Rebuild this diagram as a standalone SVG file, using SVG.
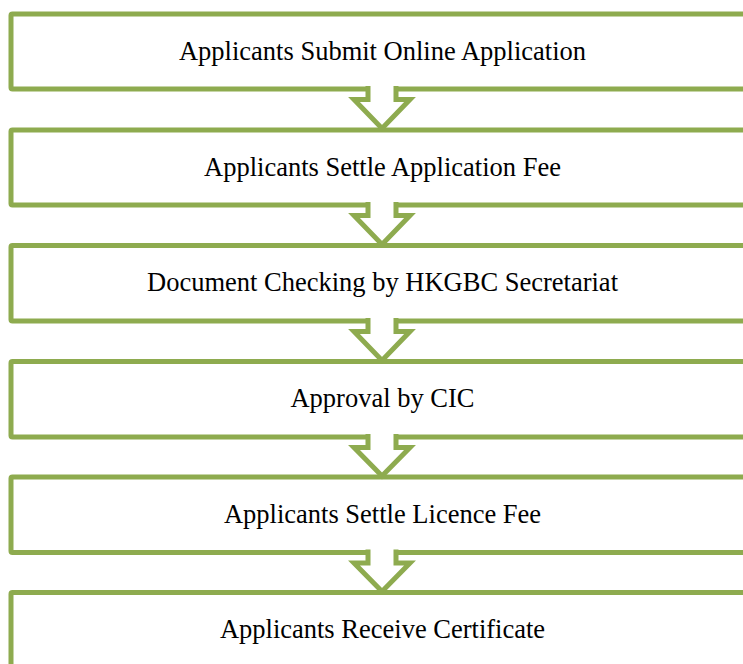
<svg xmlns="http://www.w3.org/2000/svg" width="743" height="664" viewBox="0 0 743 664">
<style>
.box{fill:#ffffff;stroke:#8EAB4F;stroke-width:5}
.arr{fill:#ffffff;stroke:#8EAB4F;stroke-width:5;stroke-linejoin:miter}
.lbl{font-family:"Liberation Serif","Times New Roman",serif;font-size:26.5px;fill:#000000;text-anchor:middle}
</style>
<rect width="743" height="664" fill="#ffffff"/>
<g id="n1"><rect class="box" x="11" y="14" width="743" height="75" rx="1.5"/><text class="lbl" x="382.5" y="59.5">Applicants Submit Online Application</text></g>
<g id="n2"><rect class="box" x="11" y="130" width="743" height="75" rx="1.5"/><text class="lbl" x="382.5" y="175.5">Applicants Settle Application Fee</text></g>
<g id="n3"><rect class="box" x="11" y="245.5" width="743" height="75.5" rx="1.5"/><text class="lbl" x="382.5" y="291">Document Checking by HKGBC Secretariat</text></g>
<g id="n4"><rect class="box" x="11" y="361.5" width="743" height="75.5" rx="1.5"/><text class="lbl" x="382.5" y="407">Approval by CIC</text></g>
<g id="n5"><rect class="box" x="11" y="477" width="743" height="75.5" rx="1.5"/><text class="lbl" x="382.5" y="522.5">Applicants Settle Licence Fee</text></g>
<g id="n6"><rect class="box" x="11" y="592.5" width="743" height="75.5" rx="1.5"/><text class="lbl" x="382.5" y="638">Applicants Receive Certificate</text></g>
<g id="connectors">
<path class="arr" d="M368,86 V99.5 H354 L382,128.5 L410,99.5 H396 V86"/>
<path class="arr" d="M368,202 V215.5 H354 L382,244.5 L410,215.5 H396 V202"/>
<path class="arr" d="M368,318 V331.5 H354 L382,360.5 L410,331.5 H396 V318"/>
<path class="arr" d="M368,434 V447.5 H354 L382,476 L410,447.5 H396 V434"/>
<path class="arr" d="M368,549.5 V563 H354 L382,591.5 L410,563 H396 V549.5"/>
</g>
</svg>
